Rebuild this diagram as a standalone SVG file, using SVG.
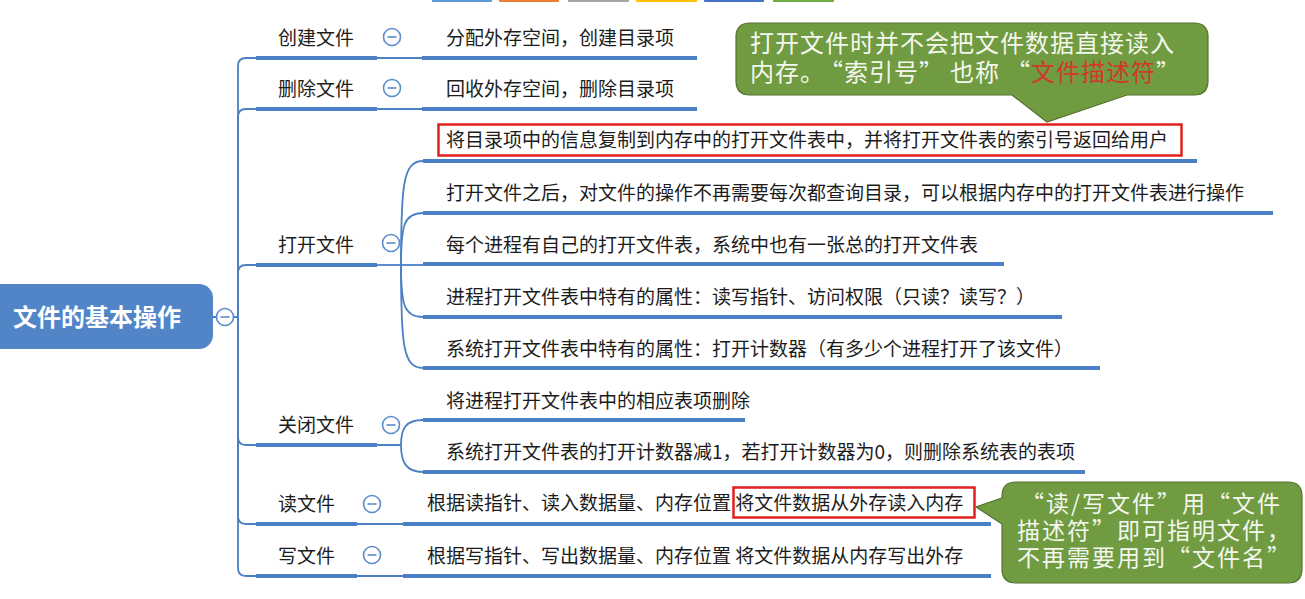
<svg xmlns="http://www.w3.org/2000/svg" width="1305" height="599" viewBox="0 0 1305 599">
<style>
.t{font-family:"Noto Sans CJK SC","Noto Sans",sans-serif;font-size:19px;fill:#1c1c1c}
.ul{stroke:#4c80c6;stroke-width:4;fill:none}
.cn{stroke:#4c80c6;stroke-width:1.8;fill:none}
.col{fill:#fff;stroke:#5b8ccd;stroke-width:1.6}
.mn{stroke:#5b8ccd;stroke-width:1.6}
.red{fill:none;stroke:#e0201e;stroke-width:2.5}
.call{fill:#709b41;stroke:#56702f;stroke-width:1.2}
.ct{font-family:"Noto Sans CJK SC","Noto Sans",sans-serif;font-size:24px;letter-spacing:1px;fill:#f4f7ee}
.ct2{font-family:"Noto Sans CJK SC","Noto Sans",sans-serif;font-size:23px;letter-spacing:2px;fill:#f4f7ee}
</style>
<rect width="1305" height="599" fill="#fff"/>
<g id="topbar">
<rect x="432" y="-2" width="60" height="4" rx="1" fill="#5b9bd5"/>
<rect x="499" y="-2" width="60" height="4" rx="1" fill="#ed7d31"/>
<rect x="568" y="-2" width="61" height="4" rx="1" fill="#a5a5a5"/>
<rect x="636" y="-2" width="61" height="4" rx="1" fill="#ffc000"/>
<rect x="704" y="-2" width="60" height="4" rx="1" fill="#4472c4"/>
<rect x="773" y="-2" width="61" height="4" rx="1" fill="#70ad47"/>
</g>
<g id="connectors">
<path class="cn" d="M213,317 H216 M234,317 H238"/>
<path class="cn" d="M238,317 V66 Q238,58 246,58 H256"/>
<path class="cn" d="M238,317 V117 Q238,109 246,109 H256"/>
<path class="cn" d="M238,317 V273 Q238,265 246,265 H256"/>
<path class="cn" d="M238,317 V437 Q238,445 246,445 H256"/>
<path class="cn" d="M238,317 V516 Q238,524 246,524 H256"/>
<path class="cn" d="M238,317 V568 Q238,576 246,576 H256"/>
<path class="cn" d="M377,58 H422 M377,109 H422"/>
<path class="cn" d="M377,265 H401"/>
<path class="cn" d="M401,265 C401,185 403,161 423,161"/>
<path class="cn" d="M401,265 C401,225 404,213 423,213"/>
<path class="cn" d="M401,265 H423"/>
<path class="cn" d="M401,265 C401,305 404,317 423,317"/>
<path class="cn" d="M401,265 C401,345 403,368 423,368"/>
<path class="cn" d="M377,445 H401 M401,445 C401,428 406,420 423,420 M401,445 C401,462 406,472 423,472"/>
<path class="cn" d="M357,524 H403 M357,576 H403"/>
</g>
<g id="root">
<rect x="-20" y="284" width="233" height="65" rx="14" fill="#5284c8"/>
<text x="13" y="326" style="font-family:'Noto Sans CJK SC','Noto Sans',sans-serif;font-size:24px;font-weight:bold;fill:#fff">文件的基本操作</text>
<circle class="col" cx="225" cy="317" r="8.5"/><line class="mn" x1="220.5" y1="317" x2="229.5" y2="317"/>
</g>
<g id="create">
<text class="t" x="278" y="45">创建文件</text>
<line class="ul" x1="256" y1="58" x2="377" y2="58"/>
<circle class="col" cx="392" cy="37" r="8.5"/><line class="mn" x1="387.5" y1="37" x2="396.5" y2="37"/>
</g>
<g id="create-c">
<text class="t" x="446" y="45">分配外存空间，创建目录项</text>
<line class="ul" x1="422" y1="58" x2="697" y2="58"/>
</g>
<g id="delete">
<text class="t" x="278" y="96">删除文件</text>
<line class="ul" x1="256" y1="109" x2="377" y2="109"/>
<circle class="col" cx="392" cy="88" r="8.5"/><line class="mn" x1="387.5" y1="88" x2="396.5" y2="88"/>
</g>
<g id="delete-c">
<text class="t" x="446" y="96">回收外存空间，删除目录项</text>
<line class="ul" x1="422" y1="109" x2="697" y2="109"/>
</g>
<g id="open">
<text class="t" x="278" y="252">打开文件</text>
<line class="ul" x1="256" y1="265" x2="377" y2="265"/>
<circle class="col" cx="391" cy="243" r="8.5"/><line class="mn" x1="386.5" y1="243" x2="395.5" y2="243"/>
</g>
<g id="open-c1">
<rect class="red" x="438.5" y="124.5" width="743" height="31"/>
<text class="t" x="446" y="147">将目录项中的信息复制到内存中的打开文件表中，并将打开文件表的索引号返回给用户</text>
<line class="ul" x1="423" y1="161" x2="1197" y2="161"/>
</g>
<g id="open-c2">
<text class="t" x="446" y="200">打开文件之后，对文件的操作不再需要每次都查询目录，可以根据内存中的打开文件表进行操作</text>
<line class="ul" x1="423" y1="213" x2="1273" y2="213"/>
</g>
<g id="open-c3">
<text class="t" x="446" y="252">每个进程有自己的打开文件表，系统中也有一张总的打开文件表</text>
<line class="ul" x1="423" y1="264" x2="1004" y2="264"/>
</g>
<g id="open-c4">
<text class="t" x="446" y="304">进程打开文件表中特有的属性：读写指针、访问权限（只读？读写？）</text>
<line class="ul" x1="423" y1="317" x2="1062" y2="317"/>
</g>
<g id="open-c5">
<text class="t" x="446" y="356">系统打开文件表中特有的属性：打开计数器（有多少个进程打开了该文件）</text>
<line class="ul" x1="423" y1="368" x2="1100" y2="368"/>
</g>
<g id="close">
<text class="t" x="278" y="432">关闭文件</text>
<line class="ul" x1="256" y1="445" x2="377" y2="445"/>
<circle class="col" cx="391" cy="425" r="8.5"/><line class="mn" x1="386.5" y1="425" x2="395.5" y2="425"/>
</g>
<g id="close-c1">
<text class="t" x="446" y="408">将进程打开文件表中的相应表项删除</text>
<line class="ul" x1="423" y1="420" x2="745" y2="420"/>
</g>
<g id="close-c2">
<text class="t" x="446" y="459">系统打开文件表的打开计数器减1，若打开计数器为0，则删除系统表的表项</text>
<line class="ul" x1="423" y1="472" x2="1085" y2="472"/>
</g>
<g id="read">
<text class="t" x="278" y="511">读文件</text>
<line class="ul" x1="256" y1="524" x2="357" y2="524"/>
<circle class="col" cx="372" cy="504" r="8.5"/><line class="mn" x1="367.5" y1="504" x2="376.5" y2="504"/>
</g>
<g id="read-c">
<rect class="red" x="733.5" y="487.5" width="241" height="30"/>
<text class="t" x="427" y="510">根据读指针、读入数据量、内存位置 将文件数据从外存读入内存</text>
<line class="ul" x1="403" y1="524" x2="991" y2="524"/>
</g>
<g id="write">
<text class="t" x="278" y="563">写文件</text>
<line class="ul" x1="256" y1="576" x2="357" y2="576"/>
<circle class="col" cx="372" cy="555" r="8.5"/><line class="mn" x1="367.5" y1="555" x2="376.5" y2="555"/>
</g>
<g id="write-c">
<text class="t" x="427" y="563">根据写指针、写出数据量、内存位置 将文件数据从内存写出外存</text>
<line class="ul" x1="403" y1="576" x2="991" y2="576"/>
</g>
<g id="callout-open">
<path class="call" d="M750,23 H1194 Q1208,23 1208,37 V81 Q1208,95 1194,95 H1127 L1047,122 L1012,95 H750 Q736,95 736,81 V37 Q736,23 750,23 Z"/>
<text class="ct" x="750" y="52">打开文件时并不会把文件数据直接读入</text>
<text class="ct" x="750" y="81">内存。<tspan dx="6">“索引号”</tspan><tspan dx="6">也称</tspan><tspan dx="6">“</tspan><tspan fill="#d2382a">文件描述符</tspan>”</text>
</g>
<g id="callout-rw">
<path class="call" d="M1016,482 H1288 Q1302,482 1302,496 V569 Q1302,583 1288,583 H1016 Q1002,583 1002,569 V524 L976,507 L1002,498 V496 Q1002,482 1016,482 Z"/>
<text class="ct2" x="1021" y="512">“读/写文件”用“文件</text>
<text class="ct2" x="1017" y="539">描述符”即可指明文件，</text>
<text class="ct2" x="1017" y="566">不再需要用到“文件名”</text>
</g>
</svg>
